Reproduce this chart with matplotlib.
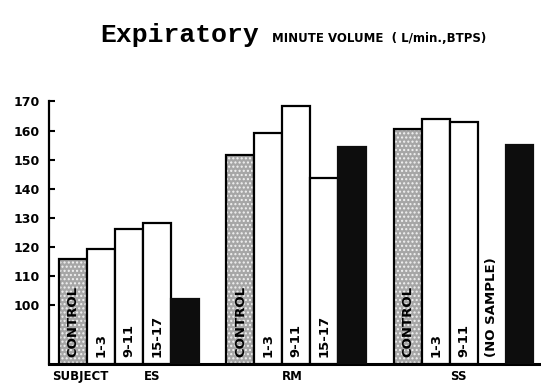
import matplotlib
matplotlib.use("Agg")
import matplotlib.pyplot as plt
import matplotlib.transforms as mtransforms
import numpy as np

# ---- data ----
subjects = ["ES", "RM", "SS"]
period_labels = ["CONTROL", "1-3", "9-11", "15-17", ""]
es_values = [115.7, 119.1, 126.0, 128.0, 102.0]
rm_values = [151.5, 159.0, 168.5, 143.7, 154.4]
ss_values = [160.5, 164.0, 163.0, None, 155.0]
missing_label = "(NO SAMPLE)"
yticks = [100, 110, 120, 130, 140, 150, 160, 170]

group_values = [es_values, rm_values, ss_values]

fig = plt.figure(figsize=(5.41, 3.90), dpi=100)
ax = fig.add_axes([49 / 541, 1 - 364 / 390, 1 - 49 / 541, (364 - 101.5) / 390])

ymin = 79.5
bar_w = 1.0
label_y = 82.0
for g, vals in enumerate(group_values):
    base = g * 6
    for i, v in enumerate(vals):
        x = base + i
        if v is None:
            ax.text(x, label_y, missing_label, rotation=90, ha="center", va="bottom",
                    fontsize=9.5, fontweight="bold", color="black")
            continue
        h = v - ymin
        if i == 0:
            ax.bar(x, h, bottom=ymin, width=bar_w, color="#a6a6a6", hatch="....",
                   edgecolor="#f2f2f2", linewidth=0, zorder=2)
            ax.bar(x, h, bottom=ymin, width=bar_w, fill=False, edgecolor="black",
                   linewidth=1.6, zorder=3)
        elif i == 4:
            ax.bar(x, h, bottom=ymin, width=bar_w, color="#0d0d0d", edgecolor="#0d0d0d",
                   linewidth=1.6, zorder=3)
        else:
            ax.bar(x, h, bottom=ymin, width=bar_w, color="white", edgecolor="black",
                   linewidth=1.6, zorder=3)
        lab = period_labels[i]
        if lab:
            ax.text(x, label_y, lab, rotation=90, ha="center", va="bottom",
                    fontsize=9.5, fontweight="bold", color="black", zorder=4)

ax.set_xlim(-0.86, 16.77)
ax.set_ylim(ymin, 170)
ax.set_yticks(yticks)
ax.set_yticklabels([str(t) for t in yticks], fontweight="bold", fontsize=9)
ax.set_xticks([])
ax.tick_params(axis="y", direction="in", length=4.5, width=1.5, pad=6.5)
for s in ["top", "right"]:
    ax.spines[s].set_visible(False)
ax.spines["left"].set_linewidth(1.6)
ax.spines["bottom"].set_linewidth(2.2)

trans = mtransforms.blended_transform_factory(ax.transData, ax.transAxes)
group_label_x = [2.82, 7.86, 13.8]
ax.text(0.25, -0.046, "SUBJECT", transform=trans, ha="center", va="center",
        fontsize=8.5, fontweight="bold")
for lx, s in zip(group_label_x, subjects):
    ax.text(lx, -0.046, s, transform=trans, ha="center", va="center",
            fontsize=8.5, fontweight="bold")

fig.text(100 / 541, 1 - 42 / 390, "Expiratory", family="Liberation Mono",
         fontweight="bold", fontsize=19, va="baseline", ha="left")
fig.text(272 / 541, 1 - 42 / 390, "MINUTE VOLUME  ( L/min.,BTPS)",
         fontweight="bold", fontsize=8.5, va="baseline", ha="left")

fig.savefig("out.png", dpi=100)
